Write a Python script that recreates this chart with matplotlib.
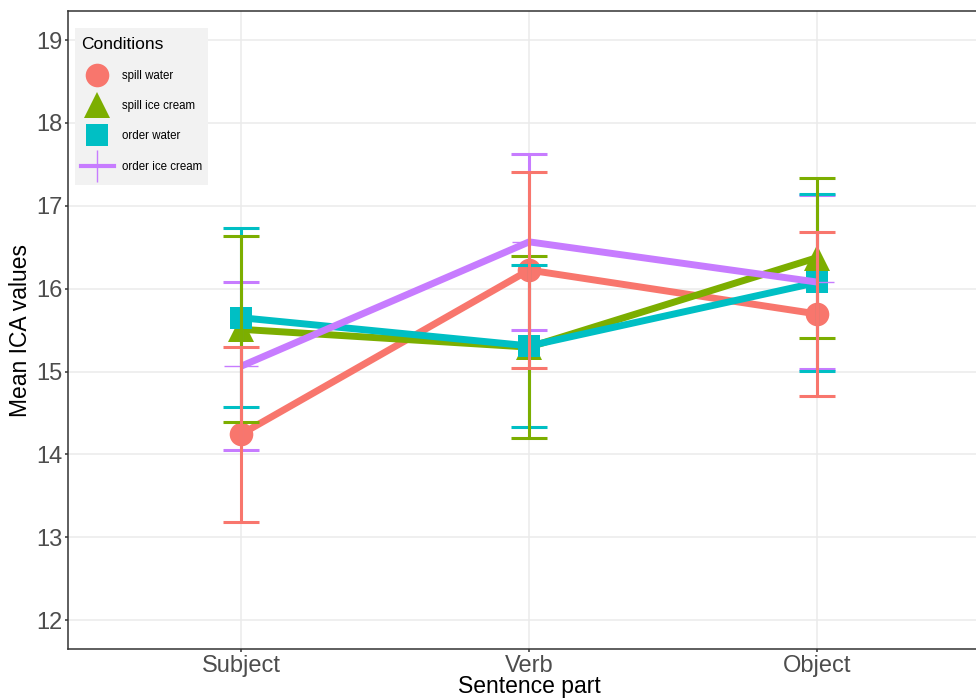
import numpy as np
import matplotlib
matplotlib.use("Agg")
import matplotlib.pyplot as plt
from matplotlib.lines import Line2D
from matplotlib.patches import Rectangle

plt.rcParams['font.family'] = ['Liberation Sans', 'DejaVu Sans']

# data
parts = ["Subject", "Verb", "Object"]
conditions = ["spill water", "spill ice cream", "order water", "order ice cream"]

spill_water_mean = [14.245, 16.225, 15.695]
spill_water_lo = [13.19, 15.04, 14.71]
spill_water_hi = [15.30, 17.41, 16.68]

spill_ice_mean = [15.51, 15.295, 16.375]
spill_ice_lo = [14.39, 14.20, 15.41]
spill_ice_hi = [16.63, 16.39, 17.34]

order_water_mean = [15.65, 15.31, 16.075]
order_water_lo = [14.57, 14.33, 15.01]
order_water_hi = [16.73, 16.29, 17.14]

order_ice_mean = [15.065, 16.565, 16.08]
order_ice_lo = [14.05, 15.50, 15.03]
order_ice_hi = [16.08, 17.63, 17.13]

means = [spill_water_mean, spill_ice_mean, order_water_mean, order_ice_mean]
lows = [spill_water_lo, spill_ice_lo, order_water_lo, order_ice_lo]
highs = [spill_water_hi, spill_ice_hi, order_water_hi, order_ice_hi]

colors = ["#F8766D", "#7CAE00", "#00BFC4", "#C77CFF"]
markers = ["o", "^", "s", "+"]
msizes = [17, 19, 16.5, 24.5]

W, H = 976, 699
fig = plt.figure(figsize=(W / 100, H / 100), dpi=100)
ax = fig.add_axes([68.3 / W, 1 - 649.3 / H, (990 - 68.3) / W, (649.3 - 11) / H])

x = np.arange(1, len(parts) + 1)

# lines + points
for i in range(4):
    ax.plot(x, means[i], color=colors[i], lw=5.0, marker=markers[i], ms=msizes[i],
            mew=1.0 if markers[i] == "+" else 0, solid_capstyle='butt', zorder=3 + i * 0.1)

# error bars, drawn last, red on top
for i in [3, 2, 1, 0]:
    m = np.array(means[i])
    yerr = [m - np.array(lows[i]), np.array(highs[i]) - m]
    ax.errorbar(x, m, yerr=yerr, fmt='none', ecolor=colors[i], elinewidth=2.2,
                capsize=13, capthick=2.2, zorder=5 + (3 - i) * 0.1)

ax.set_xlim(0.4, 3.6)
ax.set_ylim(11.65, 19.35)
ax.set_xticks(x)
ax.set_xticklabels(parts)
ax.set_yticks(np.arange(12, 20))
ax.grid(True, color="#EBEBEB", lw=1.1)
ax.set_axisbelow(True)
for s in ax.spines.values():
    s.set_color("#333333")
    s.set_linewidth(1.1)
ax.tick_params(colors="#333333", labelcolor="#4D4D4D", labelsize=17, length=2.4, width=1.1, pad=1.6)

ax.set_xlabel("Sentence part", fontsize=16.5, labelpad=-1.5)
ax.set_ylabel("Mean ICA values", fontsize=16.5, labelpad=3)

# legend background (ggplot style grey box)
ax.add_patch(Rectangle((75 / W, 1 - 185 / H), 133 / W, 157 / H, transform=fig.transFigure,
                       facecolor="#F2F2F2", edgecolor="none", zorder=9, clip_on=False))

handles = []
for i in range(3):
    handles.append(Line2D([], [], color=colors[i], lw=0, marker=markers[i], ms=msizes[i], mew=0))
handles.append(Line2D([], [], color=colors[3], lw=3, marker="|", ms=23, mew=1))

leg = ax.legend(handles, conditions, title="Conditions", loc="upper left",
                bbox_to_anchor=(75 / W, 1 - 31 / H), bbox_transform=fig.transFigure,
                borderaxespad=0, fontsize=8.3, title_fontsize=12.5, labelspacing=1.58,
                handlelength=2.9, handletextpad=0.7, borderpad=0.5, frameon=False,
                alignment="left")
leg.set_zorder(10)

fig.savefig("out.png", dpi=100)
